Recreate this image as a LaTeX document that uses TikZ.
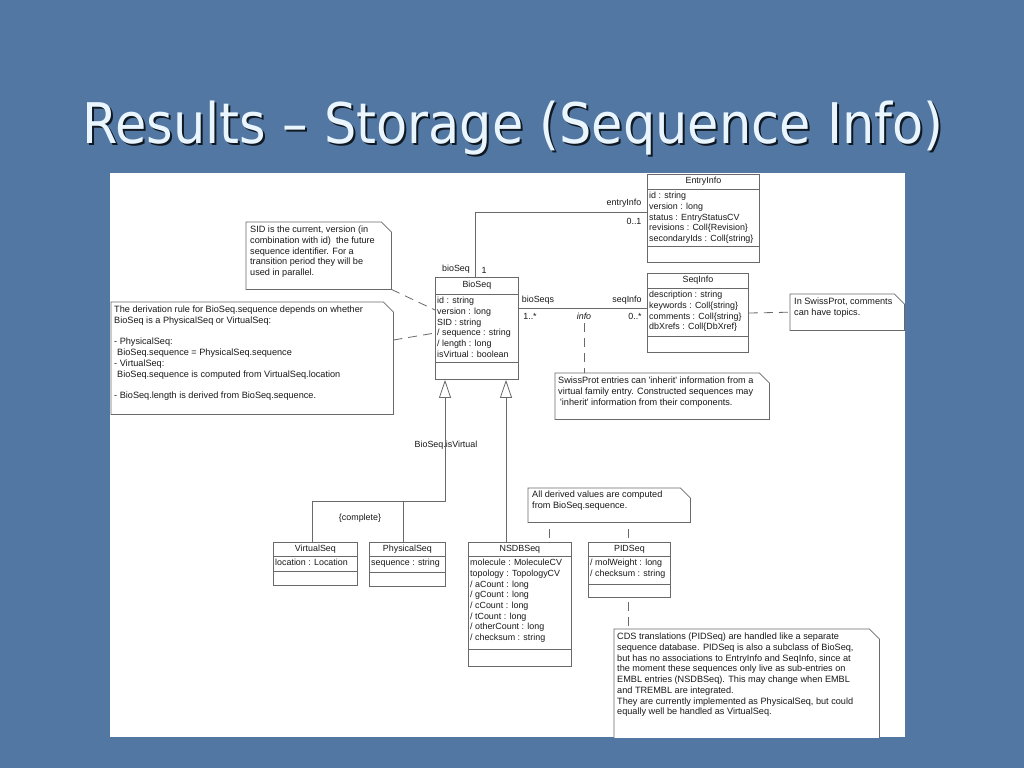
\documentclass[tikz,border=0pt]{standalone}
\usepackage{fontspec}
\setmainfont{Liberation Sans}
\newfontfamily\titlefont[FakeStretch=0.91]{DejaVu Sans}
\usetikzlibrary{arrows.meta,calc}
\definecolor{slidebg}{RGB}{82,119,163}
\definecolor{umlline}{RGB}{105,105,105}
\definecolor{umltext}{RGB}{25,25,25}
\definecolor{titlecol}{RGB}{234,246,255}
\newcommand\dognote[1]{%
  \draw[notebord] (#1.north west) -- ([xshift=-10pt]#1.north east) -- ([yshift=-10pt]#1.north east) -- (#1.south east) -- (#1.south west) -- cycle;}
\newcommand\umlclass[8]{%
  \node[cls, minimum width=#3pt, minimum height=#4pt] (#1) at #2 {};
  \draw[sepl] ($(#1.north west)+(0,#5)$) -- ($(#1.north east)+(0,#5)$);
  \draw[sepl] ($(#1.north west)+(0,#6)$) -- ($(#1.north east)+(0,#6)$);
  \node[txt] (#1-name) at ($(#1.north)+(0,#5/2)$) {#7};
  \node[attrs] (#1-attrs) at ($(#1.north west)+(2,#5+3)$) {#8};}
\begin{document}
\begin{tikzpicture}[x=1pt,y=-1pt,
  cls/.style={draw=umlline, line width=0.8pt, fill=white, inner sep=0pt, anchor=north west},
  txt/.style={font=\fontsize{8.9}{10.7}\selectfont, text=umltext, inner sep=0pt},
  attrs/.style={txt, align=left, anchor=north west},
  notetext/.style={txt, font=\fontsize{9.15}{10.7}\selectfont, align=left, anchor=north west},
  notebox/.style={inner sep=0pt, anchor=north west},
  notebord/.style={draw=umlline, line width=0.8pt, fill=white},
  sepl/.style={draw=umlline, line width=0.8pt},
  assoc/.style={draw=umlline, line width=0.8pt},
  gen/.style={draw=umlline, line width=0.8pt, -{Triangle[open,length=18pt,width=12pt]}},
  notel/.style={draw=umlline, line width=0.8pt, dash pattern=on 9pt off 6pt},
  shortdash/.style={notel, dash phase=11pt},
  titletext/.style={font=\titlefont\fontsize{56}{60}\selectfont, inner sep=0pt, anchor=base west}]
\fill[slidebg] (0,0) rectangle (1024,768);
\useasboundingbox (0,0) rectangle (1024,768);
% title
\node[titletext, text=black!80!slidebg] (titleshadow) at (84,145) {Results – Storage (Sequence Info)};
\node[titletext, text=titlecol] (title) at (82,143) {Results – Storage (Sequence Info)};
% canvas
\fill[white] (110,173) rectangle (905,737);
\begin{scope}
\clip (110,173) rectangle (905,737);
% notes
\node[notebox, minimum width=145pt, minimum height=67pt] (sidnote) at (246,222) {};
\dognote{sidnote}
\node[notetext] (sidnote-text) at ($(sidnote.north west)+(4,4)$) {SID is the current, version (in\\combination with id)\ \ the future\\sequence identifier. For a\\transition period they will be\\used in parallel.};

\node[notebox, minimum width=282pt, minimum height=112pt] (dernote) at (111,302) {};
\dognote{dernote}
\node[notetext] (dernote-text) at ($(dernote.north west)+(3,4)$) {The derivation rule for BioSeq.sequence depends on whether\\BioSeq is a PhysicalSeq or VirtualSeq:\\\mbox{}\\- PhysicalSeq:\\\hspace*{3pt}BioSeq.sequence = PhysicalSeq.sequence\\- VirtualSeq:\\\hspace*{3pt}BioSeq.sequence is computed from VirtualSeq.location\\\mbox{}\\- BioSeq.length is derived from BioSeq.sequence.};

\node[notebox, minimum width=214pt, minimum height=46pt] (swissnote) at (555,373) {};
\dognote{swissnote}
\node[notetext] (swissnote-text) at ($(swissnote.north west)+(3,4)$) {SwissProt entries can \textquotesingle inherit\textquotesingle{} information from a\\virtual family entry. Constructed sequences may\\\hspace*{2pt}\textquotesingle inherit\textquotesingle{} information from their components.};

\node[notebox, minimum width=114pt, minimum height=36pt] (topicsnote) at (790,294) {};
\dognote{topicsnote}
\node[notetext] (topicsnote-text) at ($(topicsnote.north west)+(4,4)$) {In SwissProt, comments\\can have topics.};

\node[notebox, minimum width=162pt, minimum height=34pt] (derivednote) at (528,488) {};
\dognote{derivednote}
\node[notetext] (derivednote-text) at ($(derivednote.north west)+(4,3)$) {All derived values are computed\\from BioSeq.sequence.};

\node[notebox, minimum width=265pt, minimum height=120pt] (cdsnote) at (614,629) {};
\dognote{cdsnote}
\node[notetext] (cdsnote-text) at ($(cdsnote.north west)+(3,4)$) {CDS translations (PIDSeq) are handled like a separate\\sequence database. PIDSeq is also a subclass of BioSeq,\\but has no associations to EntryInfo and SeqInfo, since at\\the moment these sequences only live as sub-entries on\\EMBL entries (NSDBSeq). This may change when EMBL\\and TREMBL are integrated.\\They are currently implemented as PhysicalSeq, but could\\equally well be handled as VirtualSeq.};
\end{scope}
% classes
\umlclass{entryinfo}{(647,174)}{112}{88}{15}{72}{EntryInfo}{id : string\\version : long\\status : EntryStatusCV\\revisions : Coll\{Revision\}\\secondaryIds : Coll\{string\}}
\umlclass{seqinfo}{(647,273)}{101}{79}{15}{63}{SeqInfo}{description : string\\keywords : Coll\{string\}\\comments : Coll\{string\}\\dbXrefs : Coll\{DbXref\}}
\umlclass{bioseq}{(435,277)}{83}{102}{17}{85}{BioSeq}{id : string\\version : long\\SID : string\\/ sequence : string\\/ length : long\\isVirtual : boolean}
\umlclass{virtualseq}{(273,542)}{84}{43}{14}{29}{VirtualSeq}{location : Location}
\umlclass{physicalseq}{(369,542)}{76}{44}{14}{30}{PhysicalSeq}{sequence : string}
\umlclass{nsdbseq}{(468,542)}{103}{124}{14}{107}{NSDBSeq}{molecule : MoleculeCV\\topology : TopologyCV\\/ aCount : long\\/ gCount : long\\/ cCount : long\\/ tCount : long\\/ otherCount : long\\/ checksum : string}
\umlclass{pidseq}{(588,542)}{82}{55}{14}{42}{PIDSeq}{/ molWeight : long\\/ checksum : string}
% associations
\draw[assoc] ($(bioseq.north west)+(40,0)$) |- ($(entryinfo.north west)+(0,38)$);
\draw[assoc] ($(bioseq.north east)+(0,31)$) -- ($(seqinfo.north west)+(0,35)$);
\node[txt] (lbl-bioseq) at (456,269) {bioSeq};
\node[txt] (lbl-one) at (484,270) {1};
\node[txt] (lbl-entryinfo) at (624,203) {entryInfo};
\node[txt] (lbl-zeroone) at (634,221) {0..1};
\node[txt] (lbl-bioseqs) at (538,300) {bioSeqs};
\node[txt] (lbl-onemany) at (530,316) {1..*};
\node[txt] (lbl-seqinfo) at (627,300) {seqInfo};
\node[txt] (lbl-zeromany) at (635,316) {0..*};
\node[txt, font=\fontsize{8.9}{10.7}\selectfont\itshape] (infolbl) at (584,316) {info};
% generalizations
\coordinate (gl) at ($(bioseq.south west)+(10,0)$);
\coordinate (gr) at ($(bioseq.south west)+(71,0)$);
\coordinate (vj) at (312,501);
\coordinate (pj) at (403,501);
\coordinate (genj) at (gl |- vj);
\draw[gen] (virtualseq.north -| vj) -- (vj) -- (genj) -- (gl);
\draw[assoc] (physicalseq.north -| pj) -- (pj);
\draw[gen] (nsdbseq.north -| gr) -- (gr);
\node[txt] (lbl-isvirtual) at (446,445) {BioSeq.isVirtual};
\node[txt] (lbl-complete) at (360,518) {\{complete\}};
% note links
\draw[notel] (sidnote.south east) -- ($(bioseq.north west)+(0,33)$);
\draw[notel] ($(dernote.north east)+(0,38)$) -- ($(bioseq.north west)+(0,56)$);
\draw[notel] ([yshift=-4pt]infolbl.south) -- (swissnote.north -| infolbl);
\draw[notel] ($(seqinfo.north east)+(0,40)$) -- (topicsnote.west);
\coordinate (dn1) at ($(nsdbseq.north west)+(81,0)$);
\coordinate (dn2) at ($(pidseq.north west)+(40,0)$);
\draw[shortdash] (dn1) -- (derivednote.south -| dn1);
\draw[shortdash] (dn2) -- (derivednote.south -| dn2);
\draw[shortdash] (pidseq.south -| dn2) -- (cdsnote.north -| dn2);
\end{tikzpicture}
\end{document}
